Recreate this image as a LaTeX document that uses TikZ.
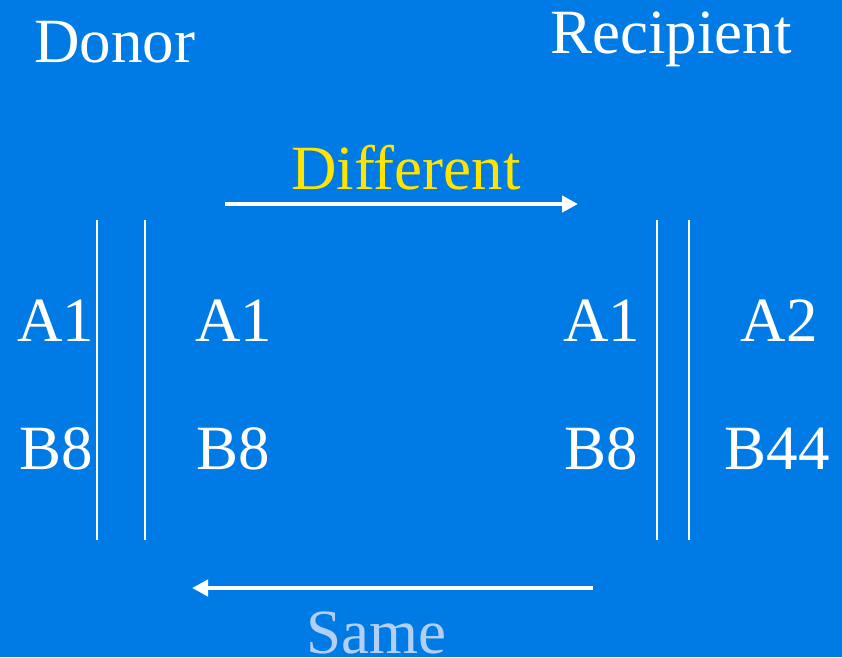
\documentclass[tikz,border=0pt]{standalone}
\usepackage{fontspec}
\setmainfont{Liberation Serif}
\usetikzlibrary{arrows.meta}
\definecolor{bgblue}{RGB}{0,123,230}
\definecolor{diffyellow}{RGB}{255,228,0}
\definecolor{samelight}{RGB}{178,208,245}
\tikzset{
  lbl/.style={inner sep=0pt, anchor=base, text=white, font=\fontsize{63}{70}\selectfont},
  divider/.style={draw=white, line width=2pt},
  bigarrow/.style={draw=white, line width=4pt, -{Triangle[length=16pt,width=16pt]}}
}
\begin{document}
\begin{tikzpicture}[x=1pt,y=-1pt]
\fill[bgblue] (0,0) rectangle (842,657);
\useasboundingbox (0,0) rectangle (842,657);
% headings
\node[lbl] (donor) at (115,62) {Donor};
\node[lbl] (recip) at (671,53) {Recipient};
\node[lbl, text=diffyellow] (diff) at (406,189) {Different};
\node[lbl, text=samelight] (same) at (376,653) {Same};
% haplotypes
\node[lbl] (la1) at (56,341) {A1};
\node[lbl] (lb8) at (56,469) {B8};
\node[lbl] (ma1) at (234,341) {A1};
\node[lbl] (mb8) at (233,469) {B8};
\node[lbl] (ra1) at (602,341) {A1};
\node[lbl] (rb8) at (601,469) {B8};
\node[lbl] (a2) at (779,341) {A2};
\node[lbl] (b44) at (777,469) {B44};
% dividers
\coordinate (d1t) at (97,220); \coordinate (d1b) at (97,540);
\coordinate (d2t) at (145,220); \coordinate (d2b) at (145,540);
\coordinate (d3t) at (657,220); \coordinate (d3b) at (657,540);
\coordinate (d4t) at (689,220); \coordinate (d4b) at (689,540);
\draw[divider] (d1t) -- (d1b);
\draw[divider] (d2t) -- (d2b);
\draw[divider] (d3t) -- (d3b);
\draw[divider] (d4t) -- (d4b);
% arrows
\coordinate (ts) at (225,204); \coordinate (te) at (578,204);
\coordinate (bs) at (593,588); \coordinate (be) at (192,588);
\draw[bigarrow] (ts) -- (te);
\draw[bigarrow] (bs) -- (be);
\end{tikzpicture}
\end{document}
